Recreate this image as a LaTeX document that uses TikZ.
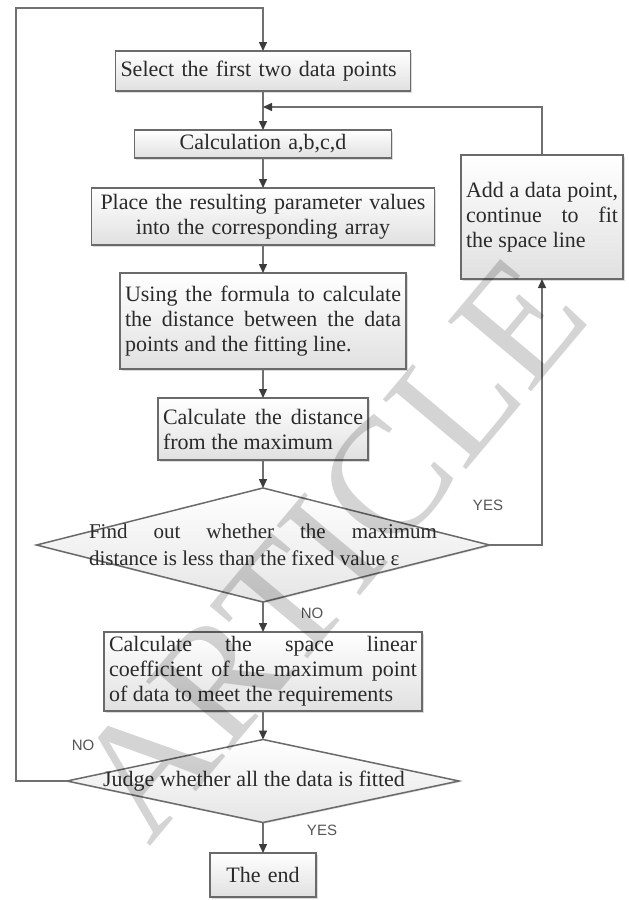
\documentclass[tikz,border=0pt]{standalone}
\usepackage{fontspec}
\setmainfont{Liberation Serif}
\newfontfamily\lsans{Liberation Sans}
\usetikzlibrary{arrows.meta,shapes.geometric,shadows}
\definecolor{edge}{HTML}{6A6A6A}
\definecolor{ink}{HTML}{2A2A2A}
\definecolor{linec}{HTML}{707070}
\definecolor{tipc}{HTML}{3C3C3C}
\definecolor{labc}{HTML}{555555}
\newcommand\mainsz{\fontsize{22}{25}\selectfont}
\newcommand\diasz{\fontsize{21}{27}\selectfont}
\tolerance=9999
\hbadness=10000
\begin{document}
\begin{tikzpicture}[x=1pt,y=-1pt,
  box/.style={draw=edge, line width=1.5pt, top color=white, bottom color=black!12,
    drop shadow={shadow xshift=1.6pt, shadow yshift=-1.6pt, fill=black!28},
    inner xsep=5pt, inner ysep=0pt, outer sep=0pt, text=ink, font=\mainsz},
  dia/.style={shape=diamond, draw=edge, line width=1.5pt, top color=white, bottom color=black!10,
    drop shadow={shadow xshift=1.2pt, shadow yshift=-1.2pt, fill=black!22},
    inner sep=0pt, outer sep=0pt},
  diatext/.style={text=ink, font=\mainsz, inner sep=0pt},
  conn/.style={draw=linec, line width=1.5pt},
  arr/.style={conn, -{Triangle[length=9pt,width=8pt,color=tipc]}},
  lab/.style={font=\lsans\fontsize{15}{15}\selectfont, text=labc, inner sep=0pt},
  wmark/.style={font=\fontsize{166}{166}\selectfont, text=black, text opacity=0.17, inner sep=0pt}
]
\useasboundingbox (0,0) rectangle (629,900);
\fill[white] (0,0) rectangle (629,900);

% boxes
\node[box, text width=285pt, minimum height=40pt, align=left] (b1) at (263,71) {Select the first two data points};
\node[box, text width=247pt, minimum height=28pt, align=center] (b2) at (263,144) {Calculation a,b,c,d};
\node[box, text width=333pt, minimum height=57pt, align=center] (b3) at (263,216.5) {Place the resulting parameter values\\into the corresponding array};
\node[box, text width=276pt, minimum height=96pt, align=justify] (b4) at (263,321) {Using the formula to calculate\linebreak the distance between the data\linebreak points and the fitting line.};
\node[box, text width=200pt, minimum height=62pt, align=justify] (b5) at (263,429) {Calculate the distance\linebreak from the maximum};
\node[box, text width=152pt, minimum height=124pt, align=justify] (add) at (542,217) {Add a data point,\linebreak continue to fit\linebreak the space line};

\node[dia, minimum width=453pt, minimum height=114pt] (d1) at (263,545) {};
\node[diatext, font=\diasz, text width=348pt, align=justify] (t1) at (263,545) {\parfillskip=0pt Find out whether the maximum\linebreak distance is less than the fixed value ε};

\node[box, text width=308pt, minimum height=79pt, align=justify] (b6) at (263,671.5) {Calculate the space linear\linebreak coefficient of the maximum point\linebreak of data to meet the requirements};

\node[dia, minimum width=392pt, minimum height=83pt] (d2) at (263,781) {};
\node[diatext] (t2) at (254,781) {Judge whether all the data is fitted};

\node[box, text width=96pt, minimum height=44pt, align=center] (e) at (263,875) {The end};

% connectors
\coordinate (tl) at (16,8);
\coordinate (jn) at (263,107);
\draw[arr] (d2.west) -| (tl) -| (b1.north);
\draw[arr] (b1.south) -- (b2.north);
\draw[arr] (add.north) |- (jn);
\draw[arr] (b2.south) -- (b3.north);
\draw[arr] (b3.south) -- (b4.north);
\draw[arr] (b4.south) -- (b5.north);
\draw[arr] (b5.south) -- (d1.north);
\draw[arr] (d1.east) -| (add.south);
\draw[arr] (d1.south) -- (b6.north);
\draw[arr] (b6.south) -- (d2.north);
\draw[arr] (d2.south) -- (e.north);

% labels
\node[lab] (yes1) at (488,505) {YES};
\node[lab] (no1) at (312,613) {NO};
\node[lab] (no2) at (83,745) {NO};
\node[lab] (yes2) at (322,830) {YES};

% watermark
\node[wmark, rotate=50] (wm) at (330,548) {ARTICLE};
\end{tikzpicture}
\end{document}
